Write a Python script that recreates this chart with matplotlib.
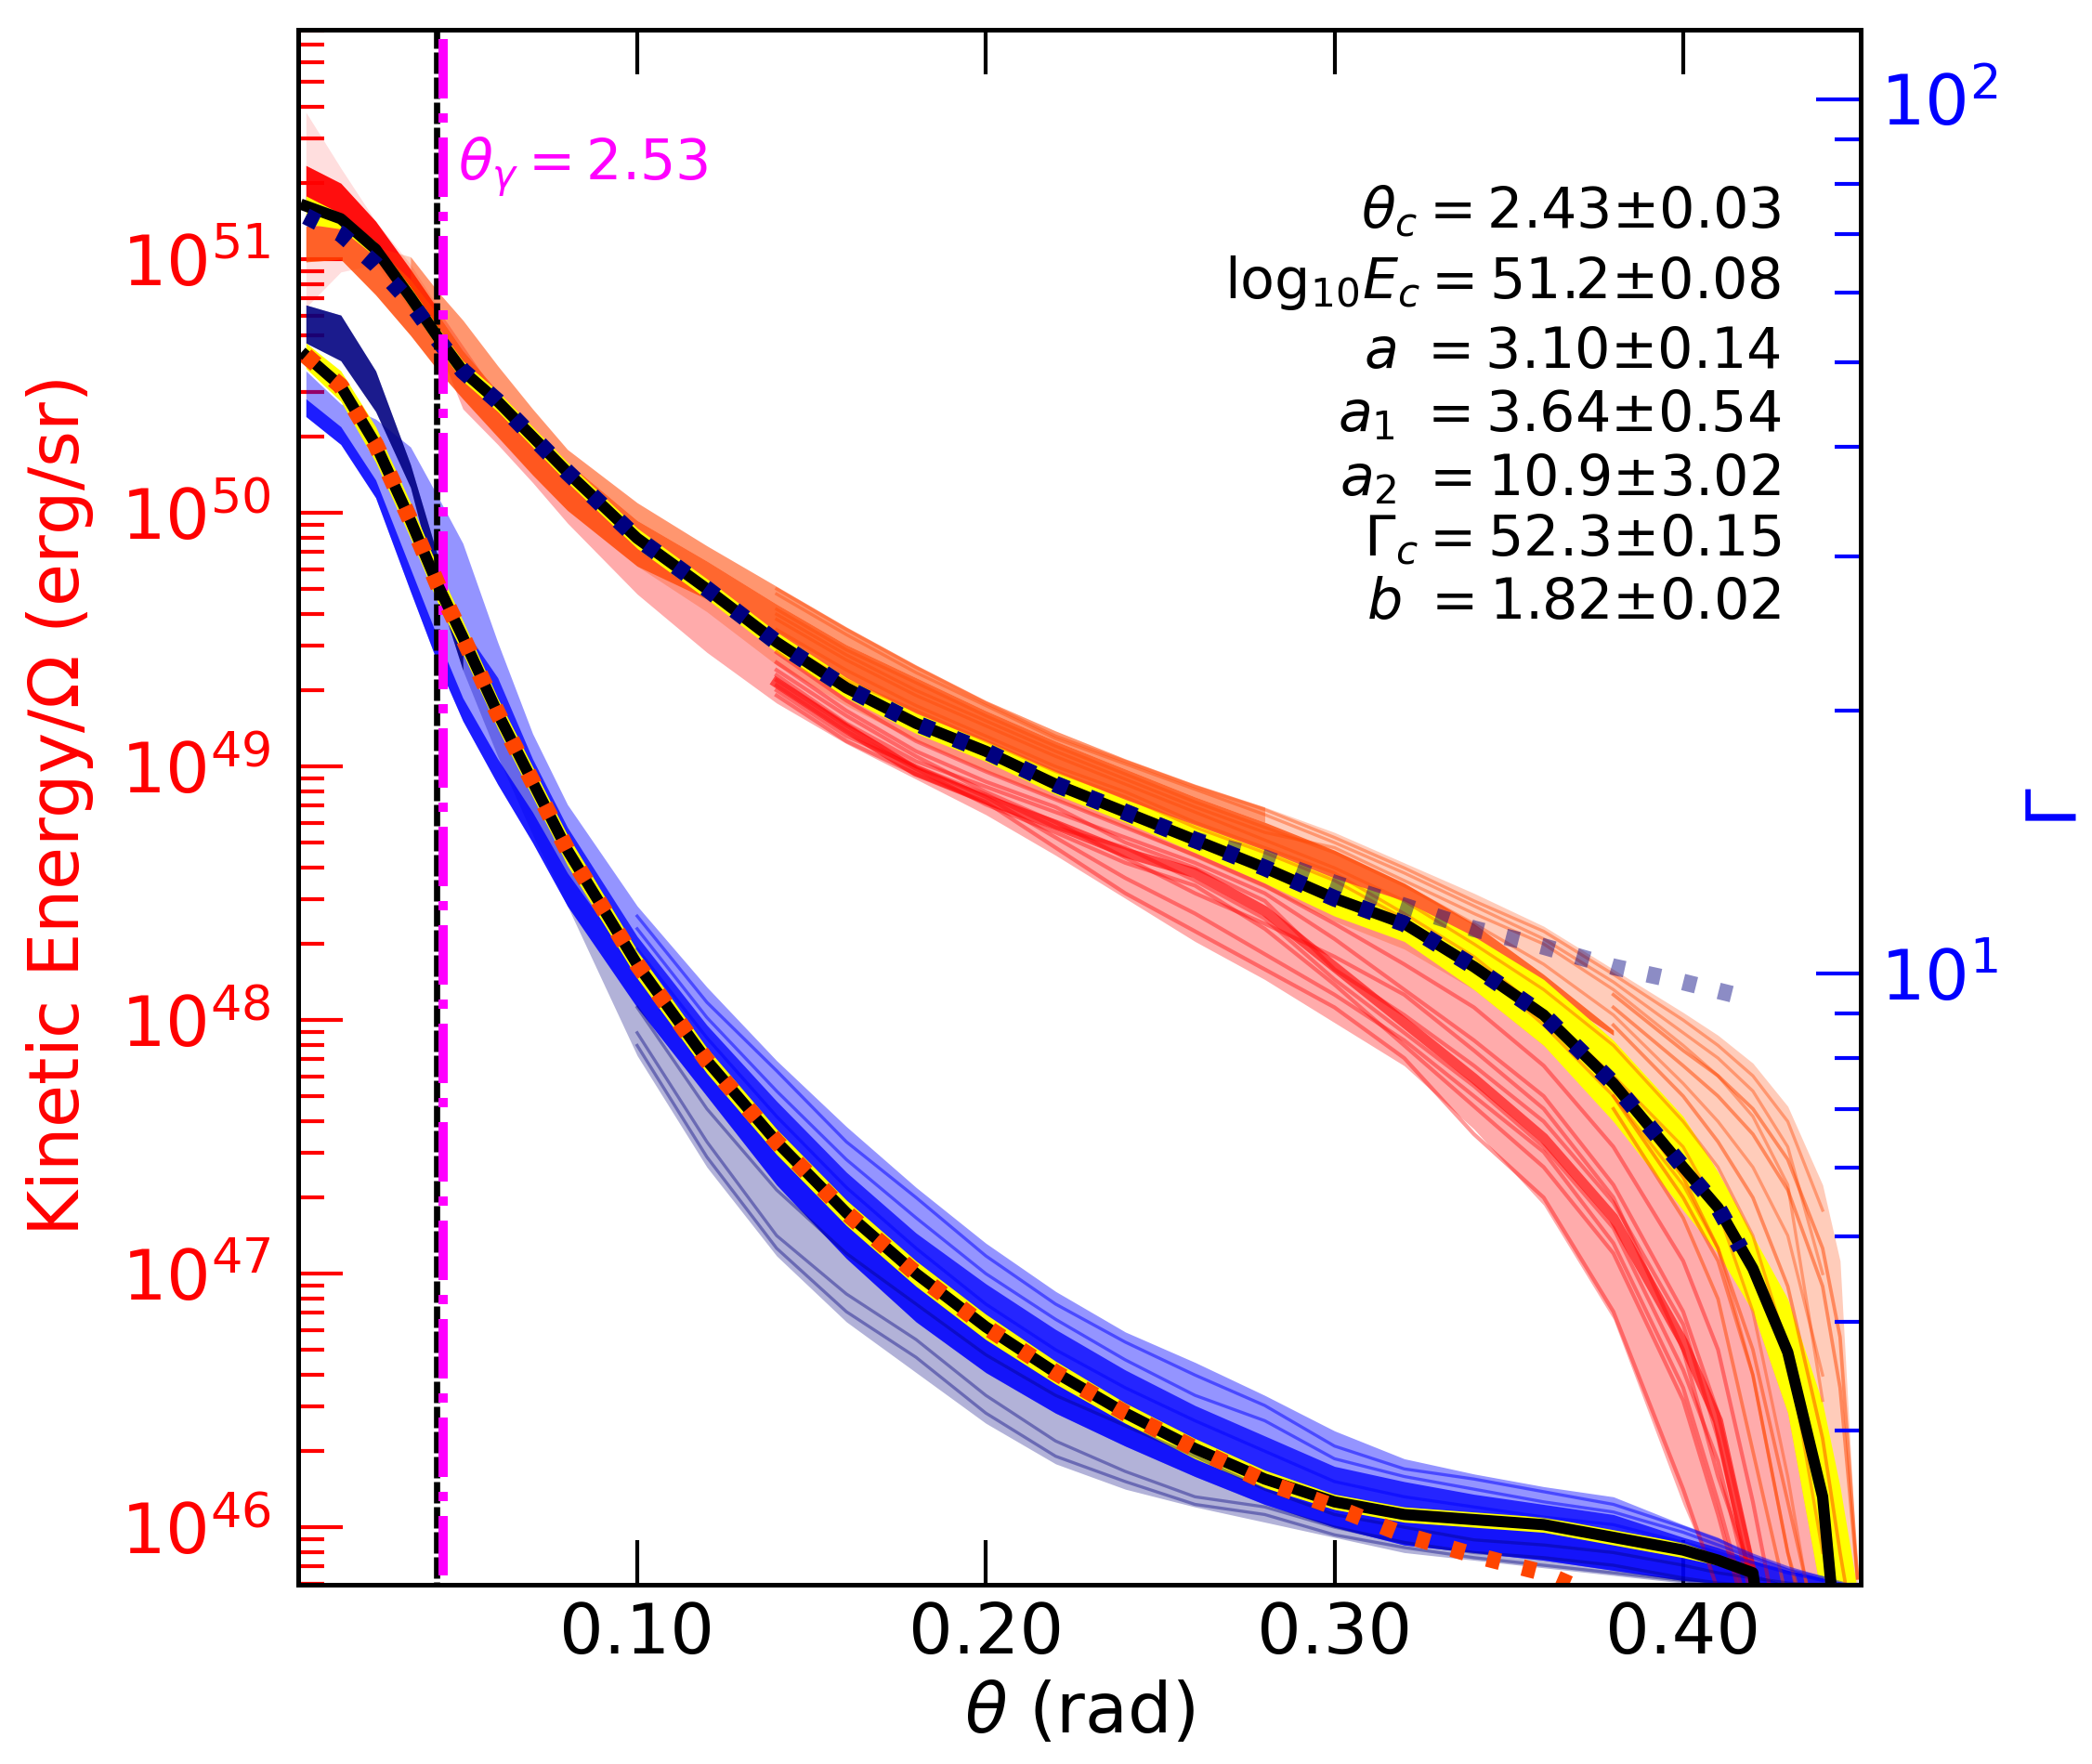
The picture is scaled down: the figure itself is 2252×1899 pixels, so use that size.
import numpy as np
import matplotlib
matplotlib.use('Agg')
import matplotlib.pyplot as plt
from matplotlib.ticker import LogLocator, NullFormatter, FormatStrFormatter

# angle grid (rad), all the band edges below are log10(E/Omega) read on it
theta = [0.005, 0.015, 0.025, 0.035, 0.043, 0.05, 0.06, 0.07, 0.08, 0.10, 0.12, 0.14, 0.16, 0.18, 0.20, 0.22,
         0.24, 0.26, 0.28, 0.30, 0.32, 0.34, 0.36, 0.38, 0.40, 0.41, 0.42, 0.43, 0.44, 0.445, 0.45]

# upper group
median_top = [51.21, 51.16, 51.04, 50.85, 50.69, 50.56, 50.44, 50.30, 50.16, 49.90, 49.70, 49.49, 49.31, 49.17, 49.06,
              48.93, 48.82, 48.71, 48.60, 48.48, 48.38, 48.21, 48.02, 47.75, 47.42, 47.26, 47.02, 46.69, 46.12, 45.4, 45.0]
yellow_top_hi = [51.25, 51.18, 51.07, 50.89, 50.73, 50.60, 50.48, 50.34, 50.20, 49.94, 49.74, 49.53, 49.35, 49.21, 49.10,
                 48.98, 48.87, 48.77, 48.67, 48.56, 48.47, 48.33, 48.16, 47.92, 47.62, 47.40, 47.15, 46.90, 46.49, 46.16, 45.75]
yellow_top_lo = [51.14, 51.12, 51.01, 50.81, 50.65, 50.52, 50.40, 50.26, 50.12, 49.86, 49.66, 49.45, 49.27, 49.13, 49.02,
                 48.89, 48.78, 48.66, 48.54, 48.41, 48.31, 48.12, 47.90, 47.60, 47.25, 47.08, 46.85, 46.45, 45.70, 45.0, 45.0]
fit_top_theta = [0.005, 0.015, 0.025, 0.035, 0.043, 0.05, 0.06, 0.07, 0.08, 0.10, 0.12, 0.14, 0.16, 0.18, 0.20, 0.22,
                 0.24, 0.26, 0.28, 0.30, 0.32, 0.34, 0.36, 0.38, 0.40, 0.41, 0.4165]
fit_top = [51.17, 51.10, 50.98, 50.83, 50.68, 50.56, 50.44, 50.30, 50.16, 49.90, 49.70, 49.49, 49.31, 49.17, 49.06,
           48.93, 48.82, 48.71, 48.60, 48.48, 48.38, 48.21, 48.02, 47.75, 47.42, 47.26, 47.10]
powerlaw_theta = [0.22, 0.24, 0.26, 0.28, 0.30, 0.32, 0.34, 0.36, 0.38, 0.40, 0.4175]
powerlaw_top = [48.93, 48.82, 48.71, 48.64, 48.54, 48.45, 48.36, 48.29, 48.21, 48.15, 48.09]

red_faint_hi = [51.58, 51.36, 51.15, 50.98, 50.81]
red_faint_lo = [50.81, 50.95, 50.98, 50.80, 50.65]
red_core_hi = [51.37, 51.30, 51.15, 50.96, 50.80]
red_core_lo = [51.22, 51.16, 51.03, 50.85, 50.70]
red_hi = [51.37, 51.30, 51.15, 50.96, 50.80, 50.66, 50.46, 50.30, 50.16, 49.90, 49.70, 49.49, 49.31, 49.17, 49.06,
          48.93, 48.82, 48.71, 48.60, 48.48, 48.38, 48.21, 48.02, 47.75, 47.42, 47.26, 47.02, 46.69, 46.12, 45.4, 45.0]
red_lo = [51.22, 51.16, 51.03, 50.85, 50.65, 50.41, 50.27, 50.12, 49.96, 49.68, 49.45, 49.25, 49.09, 48.95, 48.81,
          48.65, 48.48, 48.31, 48.16, 47.99, 47.82, 47.57, 47.27, 46.82, 46.09, 45.77, 45.4, 45.0, 45.0, 45.0, 45.0]

orange_hi = [51.13, 51.14, 51.05, 51.01, 50.87, 50.76, 50.58, 50.41, 50.25, 50.04, 49.87, 49.71, 49.55, 49.40, 49.26,
             49.14, 49.03, 48.93, 48.84, 48.74, 48.62, 48.50, 48.37, 48.20, 48.03, 47.94, 47.83, 47.66, 47.35, 47.05, 45.8]
orange_lo = [50.99, 51.00, 50.86, 50.70, 50.56, 50.45, 50.30, 50.15, 50.01, 49.79, 49.61, 49.40, 49.24, 49.10, 48.98,
             48.87, 48.76, 48.64, 48.52, 48.39, 48.28, 48.12, 47.90, 47.62, 47.30, 47.12, 46.85, 46.45, 45.7, 45.0, 45.0]
orange_core_hi = [51.13, 51.14, 51.05, 50.92, 50.78, 50.64, 50.48, 50.34, 50.20, 49.97, 49.81, 49.64, 49.48, 49.35, 49.22,
                  49.10, 48.99, 48.88, 48.78, 48.67, 48.54, 48.38, 48.18, 47.96]
orange_core_lo = [50.99, 51.00, 50.86, 50.70, 50.56, 50.45, 50.30, 50.15, 50.01, 49.79, 49.66, 49.46, 49.31, 49.18, 49.08,
                  48.96, 48.86, 48.76, 48.66, 48.55, 48.44, 48.30, 48.12, 47.94]

# a few single runs, read where they can be told apart
trace_theta = [0.10, 0.12, 0.14, 0.16, 0.18, 0.20, 0.22, 0.24, 0.26, 0.28, 0.30, 0.32, 0.34, 0.36, 0.38, 0.40, 0.41, 0.42,
               0.43, 0.44]
red_ridge = [49.76, 49.55, 49.33, 49.15, 48.98, 48.87, 48.77, 48.66, 48.58, 48.43, 48.21, 47.99, 47.77, 47.535, 47.22,
             46.73, 46.42, 45.80, 45.4, 45.2]
red_runs = [
    [49.78, 49.58, 49.36, 49.17, 49.02, 48.92, 48.82, 48.72, 48.62, 48.50, 48.32, 48.12, 47.92, 47.70, 47.35, 46.85, 46.45, 45.85, 45.3, 45.0],
    [49.82, 49.62, 49.41, 49.22, 49.06, 48.94, 48.84, 48.70, 48.60, 48.47, 48.20, 48.02, 47.82, 47.60, 47.28, 46.80, 46.35, 45.75, 45.3, 45.0],
    [49.74, 49.52, 49.30, 49.12, 49.00, 48.88, 48.72, 48.56, 48.42, 48.26, 48.10, 47.92, 47.70, 47.48, 47.12, 46.55, 46.10, 45.6, 45.2, 45.0],
    [49.85, 49.65, 49.45, 49.26, 49.10, 48.98, 48.87, 48.76, 48.65, 48.53, 48.38, 48.22, 48.05, 47.82, 47.50, 47.05, 46.70, 46.10, 45.4, 45.0],
    [49.72, 49.50, 49.28, 49.10, 48.97, 48.86, 48.68, 48.50, 48.35, 48.20, 48.05, 47.85, 47.55, 47.30, 46.85, 46.15, 45.75, 45.3, 45.1, 45.0],
    [49.80, 49.60, 49.38, 49.20, 49.04, 48.90, 48.78, 48.64, 48.50, 48.38, 48.25, 48.10, 47.88, 47.65, 47.30, 46.70, 46.20, 45.80, 45.3, 45.0],
    [49.76, 49.56, 49.34, 49.16, 49.00, 48.89, 48.76, 48.68, 48.55, 48.40, 48.16, 47.95, 47.74, 47.50, 47.18, 46.62, 46.26, 45.70, 45.3, 45.0],
    [49.77, 49.54, 49.32, 49.14, 48.99, 48.85, 48.74, 48.62, 48.53, 48.36, 48.14, 47.90, 47.66, 47.42, 47.08, 46.50, 46.05, 45.55, 45.2, 45.0],
]
orange_runs = [
    [49.98, 49.80, 49.62, 49.46, 49.33, 49.20, 49.08, 48.97, 48.86, 48.76, 48.66, 48.53, 48.38, 48.22, 48.02, 47.75, 47.60, 47.42, 47.15, 46.6],
    [49.93, 49.75, 49.58, 49.42, 49.28, 49.16, 49.04, 48.93, 48.82, 48.71, 48.60, 48.47, 48.30, 48.12, 47.90, 47.60, 47.42, 47.15, 46.70, 45.9],
    [50.00, 49.84, 49.68, 49.52, 49.37, 49.24, 49.11, 49.01, 48.91, 48.81, 48.70, 48.58, 48.45, 48.32, 48.15, 47.95, 47.85, 47.72, 47.50, 47.0],
    [49.89, 49.72, 49.54, 49.38, 49.24, 49.12, 49.00, 48.90, 48.78, 48.68, 48.58, 48.42, 48.25, 48.03, 47.78, 47.50, 47.25, 46.85, 46.20, 45.4],
    [50.02, 49.86, 49.70, 49.54, 49.39, 49.25, 49.12, 49.02, 48.92, 48.83, 48.72, 48.60, 48.47, 48.35, 48.18, 48.00, 47.90, 47.78, 47.60, 47.25],
    [49.85, 49.68, 49.50, 49.34, 49.22, 49.10, 48.98, 48.88, 48.76, 48.66, 48.55, 48.40, 48.22, 47.98, 47.70, 47.35, 47.10, 46.60, 45.9, 45.3],
    [49.95, 49.78, 49.60, 49.44, 49.30, 49.18, 49.06, 48.95, 48.84, 48.74, 48.68, 48.55, 48.42, 48.30, 48.12, 47.90, 47.78, 47.62, 47.35, 46.5],
]
orange_tail_theta = [0.38, 0.40, 0.41, 0.42, 0.43, 0.44, 0.445, 0.45]
orange_tail_runs = [
    [48.05, 47.82, 47.70, 47.55, 47.33, 46.95, 46.55, 45.8],
    [48.10, 47.88, 47.78, 47.65, 47.45, 47.10, 46.75, 45.8],
    [47.98, 47.70, 47.52, 47.30, 46.95, 46.35, 45.9, 45.5],
    [47.70, 47.30, 47.05, 46.60, 45.9, 45.4, 45.2, 45.0],
    [47.65, 47.22, 46.90, 46.30, 45.7, 45.3, 45.2, 45.0],
    [47.75, 47.38, 47.10, 46.70, 46.1, 45.5, 45.2, 45.0],
]

# lower group
median_low_theta = [0.005, 0.015, 0.025, 0.035, 0.043, 0.05, 0.06, 0.07, 0.08, 0.10, 0.12, 0.14, 0.16, 0.18, 0.20, 0.22,
                    0.24, 0.26, 0.28, 0.30, 0.32, 0.34, 0.36, 0.38, 0.40, 0.41, 0.42, 0.4212]
median_low = [50.62, 50.50, 50.27, 49.97, 49.71, 49.51, 49.21, 48.94, 48.67, 48.22, 47.84, 47.52, 47.24, 47.00, 46.79,
              46.61, 46.45, 46.31, 46.19, 46.10, 46.05, 46.03, 46.01, 45.96, 45.91, 45.87, 45.82, 45.70]
yellow_low_hi = [50.67, 50.56, 50.34, 50.04, 49.78, 49.575, 49.27, 49.00, 48.73, 48.275, 47.89, 47.57, 47.29, 47.05, 46.84,
                 46.655, 46.49, 46.35, 46.225, 46.13, 46.08, 46.06, 46.04, 45.99, 45.94, 45.89, 45.84, 45.72]
yellow_low_lo = [50.57, 50.44, 50.20, 49.90, 49.64, 49.445, 49.15, 48.88, 48.61, 48.165, 47.79, 47.47, 47.19, 46.95, 46.74,
                 46.565, 46.41, 46.27, 46.155, 46.07, 46.02, 46.00, 45.98, 45.93, 45.88, 45.85, 45.80, 45.68]
fit_low_theta = [0.005, 0.015, 0.025, 0.035, 0.043, 0.05, 0.06, 0.07, 0.08, 0.10, 0.12, 0.14, 0.16, 0.18, 0.20, 0.22,
                 0.24, 0.26, 0.28, 0.30, 0.32, 0.34, 0.36, 0.38]
fit_low = [50.62, 50.50, 50.27, 49.97, 49.71, 49.51, 49.21, 48.94, 48.67, 48.22, 47.84, 47.52, 47.24, 47.00, 46.79,
           46.61, 46.45, 46.31, 46.18, 46.08, 45.97, 45.89, 45.82, 45.70]

navy_hi = [50.82, 50.78, 50.56, 50.19, 49.82, 49.49, 49.21, 48.94, 48.67, 48.22, 47.84, 47.52, 47.24, 47.00, 46.79,
           46.61, 46.45, 46.31, 46.19, 46.10, 46.05, 46.03, 46.01, 45.96, 45.91, 45.87, 45.82, 45.77, 45.77, 45.77, 45.77]
navy_lo = [50.67, 50.60, 50.40, 50.10, 49.68, 49.38, 49.04, 48.73, 48.45, 47.86, 47.42, 47.07, 46.81, 46.61, 46.41,
           46.25, 46.15, 46.08, 46.02, 45.96, 45.90, 45.87, 45.84, 45.81, 45.78, 45.7, 45.6, 45.6, 45.6, 45.6, 45.6]
blue_hi = [50.56, 50.43, 50.37, 50.26, 50.06, 49.88, 49.49, 49.13, 48.85, 48.45, 48.13, 47.84, 47.58, 47.34, 47.12,
           46.93, 46.77, 46.65, 46.52, 46.38, 46.27, 46.21, 46.16, 46.12, 46.01, 45.96, 45.89, 45.84, 45.81, 45.79, 45.77]
blue_lo = [50.38, 50.27, 50.06, 49.69, 49.40, 49.18, 48.93, 48.70, 48.45, 48.05, 47.70, 47.35, 47.06, 46.81, 46.61,
           46.45, 46.32, 46.20, 46.09, 46.00, 45.93, 45.90, 45.87, 45.83, 45.79, 45.78, 45.77, 45.7, 45.7, 45.7, 45.7]
blue_strip_hi = [50.45, 50.34, 50.13, 49.78, 49.50, 49.27, 49.03, 48.82, 48.58, 48.20, 47.84, 47.52, 47.24, 47.00, 46.79,
                 46.61, 46.45, 46.31, 46.19, 46.10, 46.05, 46.03, 46.01, 45.96, 45.91, 45.87, 45.82, 45.77, 45.77, 45.77, 45.77]
blue_dense_hi = [49.55, 49.35, 49.03, 48.76, 48.33, 47.98, 47.68, 47.40, 47.16, 46.96, 46.78, 46.62, 46.48, 46.36,
                 46.24, 46.18, 46.13, 46.09, 46.05, 45.96, 45.92, 45.87, 45.83, 45.80, 45.785, 45.77]
blue_runs = [
    [48.28, 47.93, 47.62, 47.34, 47.10, 46.88, 46.70, 46.55, 46.42, 46.30, 46.18, 46.12, 46.08, 46.04, 46.01, 45.94, 45.90, 45.86, 45.82, 45.79],
    [48.36, 48.01, 47.72, 47.45, 47.22, 47.00, 46.82, 46.66, 46.52, 46.42, 46.27, 46.20, 46.15, 46.10, 46.06, 45.98, 45.93, 45.88, 45.83, 45.79],
    [48.41, 48.07, 47.80, 47.52, 47.30, 47.07, 46.88, 46.73, 46.60, 46.48, 46.32, 46.23, 46.19, 46.14, 46.09, 46.00, 45.95, 45.89, 45.84, 45.80],
]
navy_runs = [
    [48.05, 47.65, 47.33, 47.08, 46.88, 46.68, 46.52, 46.40, 46.28, 46.15, 46.05, 46.00, 45.95, 45.93, 45.90, 45.85, 45.82, 45.80, 45.78, 45.77],
    [47.95, 47.52, 47.15, 46.92, 46.74, 46.52, 46.34, 46.22, 46.12, 46.08, 46.00, 45.94, 45.90, 45.88, 45.85, 45.80, 45.78, 45.77, 45.76, 45.75],
    [47.90, 47.46, 47.10, 46.85, 46.67, 46.45, 46.28, 46.18, 46.09, 46.05, 45.97, 45.92, 45.88, 45.85, 45.82, 45.79, 45.77, 45.76, 45.75, 45.74],
]

theta_c = 0.0424
theta_gamma = 0.0443
x_ticks = [0.10, 0.20, 0.30, 0.40]
param_lines = [r'$\theta_c = 2.43{\pm}0.03$',
               r'$\mathrm{log}_{10}E_c = 51.2{\pm}0.08$',
               r'$a\ = 3.10{\pm}0.14$',
               r'$a_1\ = 3.64{\pm}0.54$',
               r'$a_2\ = 10.9{\pm}3.02$',
               r'$\Gamma_c = 52.3{\pm}0.15$',
               r'$b\ = 1.82{\pm}0.02$']
param_y = [0.8722, 0.8274, 0.7826, 0.7420, 0.7008, 0.6613, 0.6213]


def E(values):
    return 10.0 ** np.array(values)


def band(ax, hi, lo, color, alpha):
    n = len(hi)
    ax.fill_between(theta[:n], E(hi), E(lo), color=color, alpha=alpha, lw=0)


fig = plt.figure(figsize=(2252 / 300, 1899 / 300), dpi=300)
ax = fig.add_axes([0.1424, 0.1016, 0.7470, 0.8815])
ax.set_yscale('log')
ax.set_axisbelow(True)

# upper group
band(ax, red_faint_hi, red_faint_lo, 'red', 0.13)
band(ax, red_hi, red_lo, 'red', 0.33)
band(ax, red_core_hi, red_core_lo, 'red', 0.9)
for run in red_runs:
    ax.plot(trace_theta[2:], E(run[2:]), color='red', lw=1.0, alpha=0.4)
ax.plot(trace_theta[2:], E(red_ridge[2:]), color='red', lw=2.6, alpha=0.6)
band(ax, orange_hi, orange_lo, 'orangered', 0.27)
ax.fill_between(theta[3:19], E(orange_hi[3:19]), E(orange_core_hi[3:19]), color='orangered', alpha=0.4, lw=0)
band(ax, orange_core_hi, orange_core_lo, 'orangered', 0.75)
for run in orange_runs:
    ax.plot(trace_theta[2:], E(run[2:]), color='orangered', lw=0.8, alpha=0.4)
for run in orange_tail_runs:
    ax.plot(orange_tail_theta, E(run), color='orangered', lw=0.9, alpha=0.5)
band(ax, yellow_top_hi, yellow_top_lo, 'yellow', 1.0)
ax.plot(powerlaw_theta, E(powerlaw_top), color='navy', lw=4.3, alpha=0.45, linestyle=(0, (0.8, 1.4)))
ax.plot(theta[:30], E(median_top[:30]), color='k', lw=2.9)
ax.plot(fit_top_theta, E(fit_top), color='navy', lw=4.3, linestyle=(0, (0.8, 1.4)))

ax.plot([theta_c, theta_c], [10 ** 45.7, 10 ** 51.905], color='k', lw=1.6, linestyle=(0, (3.45, 0.6)))
ax.plot([theta_gamma, theta_gamma], [10 ** 51.87, 10 ** 45.7], color='magenta', lw=2.4, linestyle='-.')

# lower group
band(ax, navy_hi, navy_lo, 'navy', 0.3)
band(ax, blue_hi, blue_lo, 'blue', 0.42)
band(ax, blue_strip_hi, blue_lo, 'blue', 0.8)
ax.fill_between(theta[5:], E(blue_dense_hi), E(navy_hi[5:]), color='blue', alpha=0.75, lw=0)
band(ax, navy_hi[:6], navy_lo[:6], 'navy', 0.85)
for run in navy_runs:
    ax.plot(trace_theta, E(run), color='navy', lw=0.8, alpha=0.4)
for run in blue_runs:
    ax.plot(trace_theta, E(run), color='blue', lw=0.8, alpha=0.5)
ax.fill_between(median_low_theta, E(yellow_low_hi), E(yellow_low_lo), color='yellow', lw=0)
ax.plot(median_low_theta, E(median_low), color='k', lw=2.9)
ax.plot(fit_low_theta, E(fit_low), color='orangered', lw=4.3, linestyle=(0, (0.8, 1.4)))

ax.set_xlim(0.0027, 0.4509)
ax.set_ylim(10 ** 45.773, 10 ** 51.905)
ax.set_xticks(x_ticks)
ax.xaxis.set_major_formatter(FormatStrFormatter('%.2f'))
ax.tick_params(axis='x', which='major', direction='in', top=True, length=11.6, width=1.0, labelsize=18, pad=4)
ax.yaxis.set_major_locator(LogLocator(base=10, numticks=20))
ax.yaxis.set_minor_locator(LogLocator(base=10, subs=np.arange(2, 10), numticks=20))
ax.yaxis.set_minor_formatter(NullFormatter())
ax.tick_params(axis='y', which='major', direction='in', length=11.6, width=1.0, colors='red', labelsize=18, pad=7)
ax.tick_params(axis='y', which='minor', direction='in', length=6.8, width=1.0, colors='red')
ax.set_xlabel(r'$\theta$ (rad)', fontsize=18, labelpad=3)
ax.set_ylabel(r'Kinetic Energy/$\Omega$ (erg/sr)', fontsize=18, color='red', labelpad=6.5)

ax2 = ax.twinx()
ax2.set_yscale('log')
ax2.set_ylim(2, 120)
ax2.yaxis.set_major_locator(LogLocator(base=10, numticks=10))
ax2.yaxis.set_minor_locator(LogLocator(base=10, subs=np.arange(2, 10), numticks=10))
ax2.yaxis.set_minor_formatter(NullFormatter())
ax2.tick_params(axis='y', which='major', direction='in', length=11.6, width=1.0, colors='blue', labelsize=18, pad=5)
ax2.tick_params(axis='y', which='minor', direction='in', length=6.8, width=1.0, colors='blue')
ax2.set_ylabel(r'$\Gamma$', fontsize=18, color='blue', labelpad=6.5)

for a in [ax, ax2]:
    for s in a.spines.values():
        s.set_linewidth(1.15)

ax.text(0.1022, 0.904, r'$\theta_\gamma = 2.53$', transform=ax.transAxes, color='magenta', fontsize=14.5, va='baseline')
for line, y in zip(param_lines, param_y):
    ax.text(0.949, y, line, transform=ax.transAxes, color='k', fontsize=14.5, ha='right', va='baseline')

fig.savefig('out.png', dpi=300)
